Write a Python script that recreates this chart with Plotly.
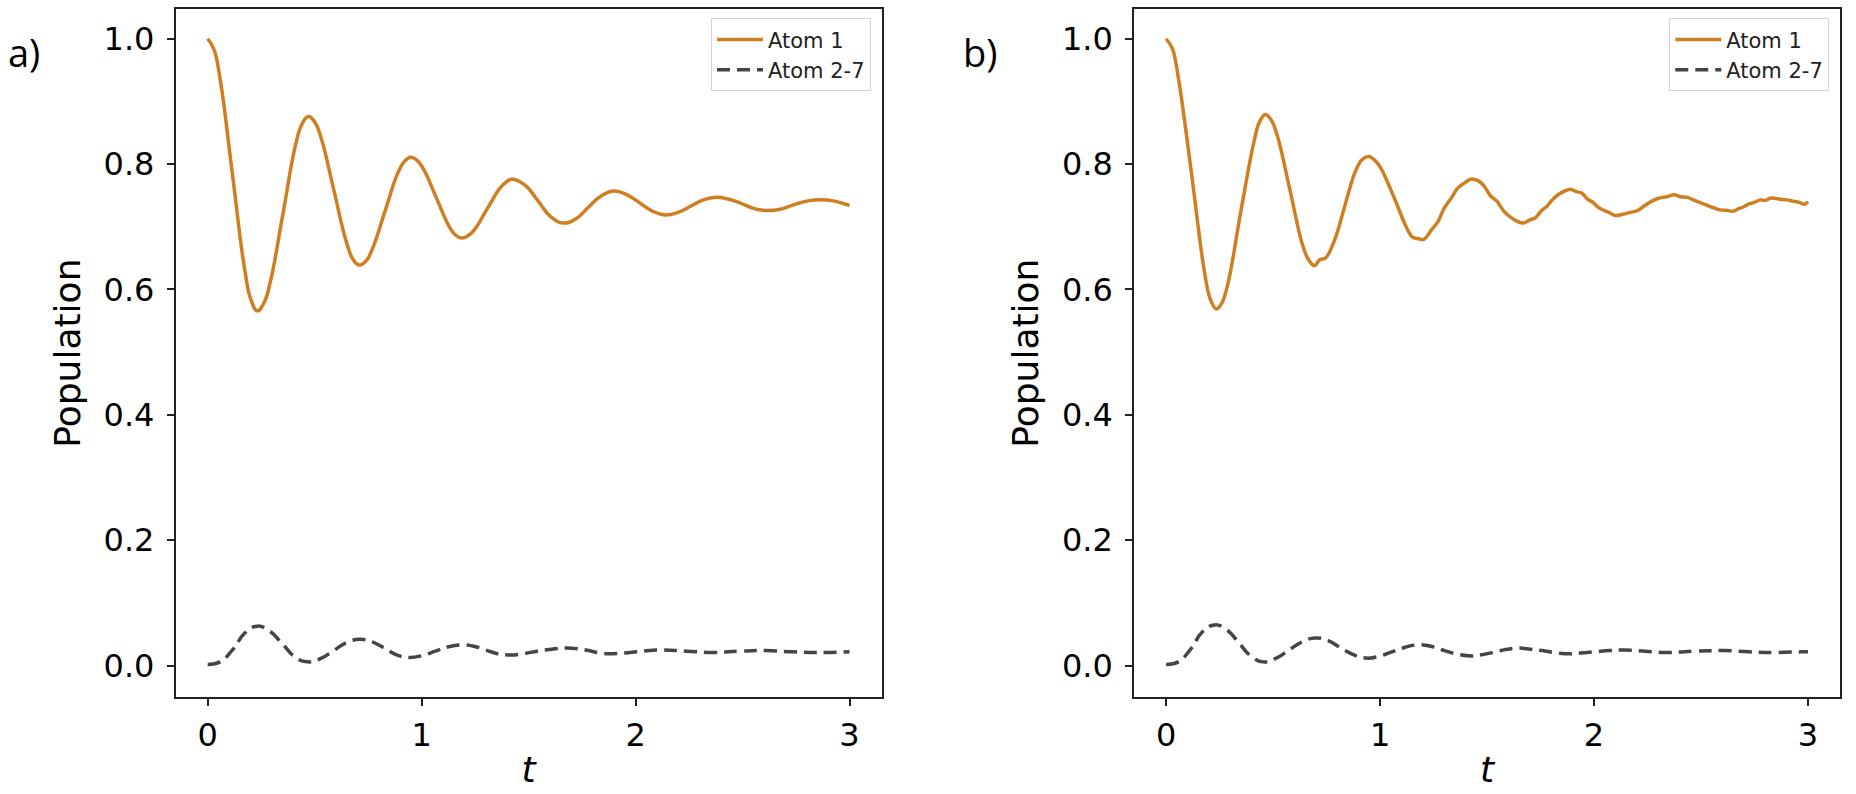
import plotly.graph_objects as go

# panel a) - smooth simulation
t_a1 = [0.000, 0.029, 0.058, 0.116, 0.174, 0.203, 0.232, 0.262, 0.292, 0.352, 0.411, 0.441, 0.471,
        0.501, 0.531, 0.590, 0.650, 0.680, 0.709, 0.739, 0.769, 0.829, 0.889, 0.919, 0.949, 0.979,
        1.009, 1.068, 1.128, 1.158, 1.188, 1.218, 1.248, 1.307, 1.367, 1.397, 1.426, 1.485, 1.545,
        1.604, 1.663, 1.722, 1.782, 1.842, 1.901, 1.960, 2.020, 2.079, 2.138, 2.198, 2.258, 2.317,
        2.377, 2.436, 2.496, 2.555, 2.614, 2.676, 2.738, 2.800, 2.863, 2.930, 3.000]
atom1_a = [1.000, 0.983, 0.936, 0.783, 0.630, 0.583, 0.566, 0.578, 0.611, 0.721, 0.831, 0.864, 0.876,
           0.867, 0.841, 0.758, 0.674, 0.648, 0.639, 0.645, 0.664, 0.725, 0.786, 0.804, 0.811, 0.806,
           0.792, 0.747, 0.701, 0.687, 0.682, 0.686, 0.696, 0.729, 0.762, 0.772, 0.776, 0.766, 0.741,
           0.716, 0.706, 0.713, 0.732, 0.750, 0.757, 0.751, 0.738, 0.725, 0.719, 0.723, 0.733, 0.743,
           0.747, 0.744, 0.737, 0.729, 0.726, 0.728, 0.735, 0.741, 0.743, 0.741, 0.734]

t_a2 = [0.000, 0.058, 0.116, 0.174, 0.232, 0.290, 0.349, 0.407, 0.465, 0.527, 0.589, 0.650, 0.712,
        0.769, 0.826, 0.883, 0.940, 1.002, 1.064, 1.126, 1.188, 1.244, 1.299, 1.355, 1.410, 1.475,
        1.540, 1.606, 1.671, 1.726, 1.780, 1.835, 1.890, 1.948, 2.005, 2.063, 2.120, 2.240, 2.360,
        2.485, 2.610, 2.730, 2.850, 3.000]
atom27_a = [0.002, 0.006, 0.025, 0.052, 0.063, 0.055, 0.035, 0.014, 0.006, 0.011, 0.024, 0.037, 0.042,
            0.038, 0.028, 0.017, 0.013, 0.016, 0.023, 0.030, 0.033, 0.031, 0.025, 0.019, 0.017, 0.019,
            0.023, 0.026, 0.028, 0.027, 0.024, 0.020, 0.019, 0.020, 0.022, 0.024, 0.025, 0.023, 0.021,
            0.023, 0.024, 0.022, 0.021, 0.022]

# panel b) - noisy trajectories
t_b1 = [0.000, 0.030, 0.059, 0.118, 0.176, 0.205, 0.235, 0.263, 0.292, 0.350, 0.407, 0.436, 0.464,
        0.492, 0.521, 0.578, 0.636, 0.665, 0.693, 0.720, 0.745, 0.790, 0.830, 0.884, 0.915, 0.947,
        0.976, 1.005, 1.064, 1.122, 1.150, 1.180, 1.205, 1.240, 1.270, 1.300, 1.335, 1.361, 1.395,
        1.422, 1.455, 1.484, 1.515, 1.546, 1.578, 1.608, 1.640, 1.670, 1.700, 1.725, 1.755, 1.780,
        1.805, 1.835, 1.862, 1.890, 1.917, 1.943, 1.970, 1.995, 2.020, 2.048, 2.075, 2.100, 2.135,
        2.169, 2.205, 2.238, 2.270, 2.306, 2.340, 2.375, 2.405, 2.437, 2.470, 2.500, 2.530, 2.562,
        2.590, 2.625, 2.650, 2.676, 2.700, 2.727, 2.750, 2.777, 2.800, 2.828, 2.870, 2.900, 2.930,
        2.960, 2.985, 3.000]
atom1_b = [1.000, 0.984, 0.934, 0.787, 0.635, 0.586, 0.569, 0.580, 0.614, 0.726, 0.830, 0.867, 0.879,
           0.870, 0.844, 0.760, 0.673, 0.648, 0.638, 0.648, 0.650, 0.681, 0.727, 0.788, 0.807, 0.812,
           0.806, 0.793, 0.748, 0.700, 0.684, 0.681, 0.680, 0.695, 0.708, 0.730, 0.747, 0.761, 0.770,
           0.776, 0.774, 0.766, 0.750, 0.741, 0.725, 0.716, 0.709, 0.706, 0.711, 0.714, 0.726, 0.733,
           0.743, 0.752, 0.757, 0.760, 0.756, 0.754, 0.744, 0.739, 0.731, 0.726, 0.722, 0.718, 0.720,
           0.723, 0.726, 0.734, 0.741, 0.746, 0.748, 0.751, 0.748, 0.747, 0.742, 0.738, 0.734, 0.730,
           0.727, 0.726, 0.725, 0.729, 0.732, 0.737, 0.739, 0.743, 0.742, 0.746, 0.744, 0.743, 0.741,
           0.739, 0.736, 0.740]

t_b2 = [0.000, 0.057, 0.114, 0.170, 0.227, 0.284, 0.341, 0.397, 0.454, 0.515, 0.575, 0.636, 0.696,
        0.757, 0.817, 0.878, 0.938, 0.997, 1.055, 1.114, 1.172, 1.237, 1.301, 1.366, 1.430, 1.485,
        1.540, 1.594, 1.649, 1.704, 1.758, 1.813, 1.867, 1.935, 2.004, 2.072, 2.140, 2.238, 2.336,
        2.473, 2.610, 2.725, 2.840, 2.970, 3.000]
atom27_b = [0.002, 0.006, 0.026, 0.054, 0.065, 0.057, 0.036, 0.015, 0.006, 0.012, 0.025, 0.038, 0.044,
            0.040, 0.028, 0.017, 0.012, 0.015, 0.022, 0.029, 0.033, 0.031, 0.024, 0.018, 0.0155, 0.018,
            0.022, 0.026, 0.028, 0.026, 0.024, 0.021, 0.019, 0.020, 0.022, 0.024, 0.025, 0.023, 0.021,
            0.023, 0.024, 0.022, 0.021, 0.022, 0.022]

x_ticks = [0, 1, 2, 3]
y_ticks = [0.0, 0.2, 0.4, 0.6, 0.8, 1.0]
y_ticklabels = ["0.0", "0.2", "0.4", "0.6", "0.8", "1.0"]
names = ["Atom 1", "Atom 2-7"]
panel_labels = ["a)", "b)"]

ORANGE = "#CF7F22"
GREY = "#454545"

fig = go.Figure()

panels = [
    (t_a1, atom1_a, t_a2, atom27_a, "x", "y", "legend", 1.3),
    (t_b1, atom1_b, t_b2, atom27_b, "x2", "y2", "legend2", 1.0),
]
for t1, v1, t2, v2, xa, ya, lg, sm in panels:
    fig.add_trace(go.Scatter(x=t1, y=v1, mode="lines", name=names[0], xaxis=xa, yaxis=ya, legend=lg,
                             line=dict(color=ORANGE, width=3.5, shape="spline", smoothing=sm)))
    fig.add_trace(go.Scatter(x=t2, y=v2, mode="lines", name=names[1], xaxis=xa, yaxis=ya, legend=lg,
                             line=dict(color=GREY, width=3.5, dash="13px,7px", shape="spline", smoothing=1.3)))

axis_common = dict(showgrid=False, zeroline=False, showline=True, linecolor="#222", linewidth=1.5,
                   mirror=True, ticks="outside", ticklen=7, tickwidth=1.5, tickcolor="#222",
                   tickfont=dict(size=32, color="black"))

xdoms = [[0.0946, 0.4750], [0.6110, 0.9914]]
ydom = [0.1222, 0.9883]

for i, xd in enumerate(xdoms):
    sx = "" if i == 0 else str(i + 1)
    fig.update_layout({
        "xaxis" + sx: dict(axis_common, domain=xd, range=[-0.15, 3.15], tickvals=x_ticks,
                           anchor="y" + sx, ticklabelstandoff=2,
                           title=dict(text="<i>t</i>", font=dict(size=36, color="black"), standoff=4)),
        "yaxis" + sx: dict(axis_common, domain=ydom, range=[-0.05, 1.047], tickvals=y_ticks,
                           ticktext=y_ticklabels, anchor="x" + sx, ticklabelstandoff=6,
                           title=dict(text="Population", font=dict(size=36, color="black"), standoff=12)),
    })

legend_style = dict(xanchor="right", yanchor="top", bgcolor="white", bordercolor="#d4d4d4",
                    borderwidth=1, font=dict(size=21, color="#222"), tracegroupgap=0, itemwidth=46)
fig.update_layout(
    legend=dict(legend_style, x=0.4693, y=0.977),
    legend2=dict(legend_style, x=0.9856, y=0.977),
)

for lab, xp in zip(panel_labels, [0.0129, 0.528]):
    fig.add_annotation(text=lab, xref="paper", yref="paper", x=xp, y=0.9345, showarrow=False,
                       xanchor="center", yanchor="middle",
                       font=dict(family="Open Sans", size=38, color="black"))

fig.update_layout(
    width=1856, height=794,
    margin=dict(l=0, r=0, t=0, b=0),
    paper_bgcolor="white", plot_bgcolor="white",
    font=dict(family="DejaVu Sans", color="black"),
)

fig.write_html("out.html", config={"displayModeBar": False},
               post_script="document.body.style.margin='0';document.body.style.overflow='hidden';")
